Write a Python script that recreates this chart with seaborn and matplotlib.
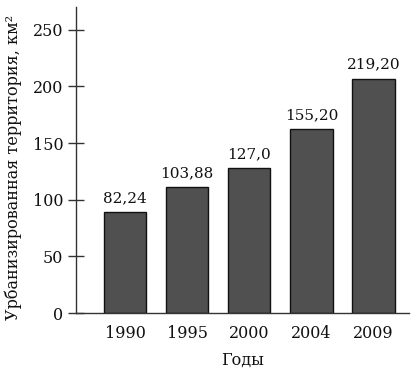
import matplotlib
matplotlib.use("Agg")
import matplotlib.pyplot as plt
import seaborn as sns
import pandas as pd

years = ["1990", "1995", "2000", "2004", "2009"]
bar_heights = [89.0, 111.3, 128.0, 162.5, 206.7]
value_labels = ["82,24", "103,88", "127,0", "155,20", "219,20"]
yticks = [0, 50, 100, 150, 200, 250]

sns.set_theme(style="white")
plt.rcParams["font.family"] = ["DejaVu Serif"]

df = pd.DataFrame({"year": years, "area": bar_heights})

fig = plt.figure(figsize=(4.18, 3.74), dpi=100)
ax = fig.add_axes([76 / 418, 61 / 374, 333 / 418, 306 / 374])

sns.barplot(data=df, x="year", y="area", ax=ax, color="#505050",
            edgecolor="#111111", linewidth=1.0, width=0.68, saturation=1)

for p, lab in zip(ax.patches, value_labels):
    ax.annotate(lab, (p.get_x() + p.get_width() / 2, p.get_height()),
                xytext=(0, 5), textcoords="offset points",
                ha="center", va="bottom", fontsize=11, color="#111111")

ax.set_xlim(-0.79, 4.57)
ax.set_ylim(0, 270)
ax.set_yticks(yticks)
ax.set_yticklabels([str(t) for t in yticks])

for s in ["top", "right"]:
    ax.spines[s].set_visible(False)
for s in ["left", "bottom"]:
    ax.spines[s].set_color("#333333")
    ax.spines[s].set_linewidth(1.0)

ax.tick_params(axis="y", direction="inout", length=12, width=1.0,
               color="#333333", pad=3, labelsize=11.5, labelcolor="#111111", left=True)
ax.tick_params(axis="x", length=0, pad=9, labelsize=11.5, labelcolor="#111111")

ax.set_xlabel("Годы", fontsize=11.5, color="#111111", labelpad=7)
ax.set_ylabel("Урбанизированная территория, км²", fontsize=11.5,
              color="#111111")
ax.yaxis.set_label_coords(-0.162, 0.477)

fig.savefig("out.png", dpi=100, facecolor="white")
